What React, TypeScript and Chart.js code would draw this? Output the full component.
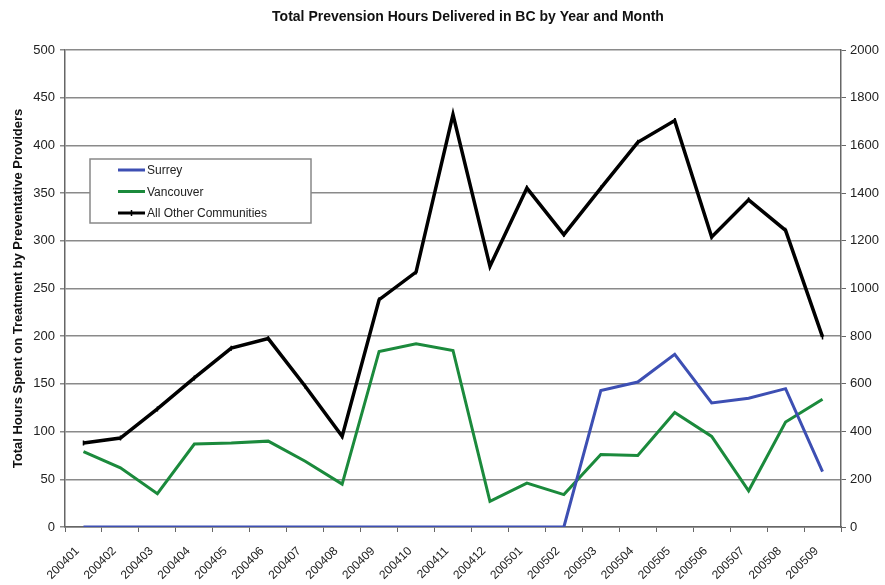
import React, { useEffect, useRef } from "react";
import { Chart, registerables } from "chart.js";

Chart.register(...registerables);

const months = [
  "200401", "200402", "200403", "200404", "200405", "200406", "200407",
  "200408", "200409", "200410", "200411", "200412", "200501", "200502",
  "200503", "200504", "200505", "200506", "200507", "200508", "200509",
];
const surrey = [0, 0, 0, 0, 0, 0, 0, 0, 0, 0, 0, 0, 0, 0, 143, 152, 181, 130, 135, 145, 58];
const vancouver = [79, 62, 35, 87, 88, 90, 69, 45, 184, 192, 185, 27, 46, 34, 76, 75, 120, 95, 38, 110, 134];
const otherCommunities = [352, 373, 495, 625, 750, 790, 590, 380, 953, 1069, 1729, 1093, 1421, 1226, 1421, 1613, 1704, 1216, 1372, 1244, 797];

const leftTicks = { min: 0, max: 500, step: 50 };
const rightTicks = { min: 0, max: 2000, step: 200 };

const chartTitle = "Total Prevension Hours Delivered in BC by Year and Month";
const yTitle = "Total Hours Spent on Treatment by Preventative Providers";
const seriesNames = ["Surrey", "Vancouver", "All Other Communities"];

const FONT = "'Liberation Sans', Arial, sans-serif";

const titlePlugin = {
  id: "customTitle",
  afterDraw(chart: any) {
    const ctx = chart.ctx;
    ctx.save();
    ctx.font = `bold 14px ${FONT}`;
    ctx.fillStyle = "#111";
    ctx.textAlign = "center";
    ctx.textBaseline = "middle";
    ctx.fillText(chartTitle, 468, 17);
    ctx.restore();
  },
};

const legendPlugin = {
  id: "boxLegend",
  afterDraw(chart: any) {
    const ctx = chart.ctx;
    const x = 90, y = 159, w = 221, h = 64;
    ctx.save();
    ctx.fillStyle = "#fff";
    ctx.fillRect(x, y, w, h);
    ctx.strokeStyle = "#888";
    ctx.lineWidth = 1.5;
    ctx.strokeRect(x, y, w, h);
    ctx.font = `12px ${FONT}`;
    ctx.textBaseline = "middle";
    ctx.textAlign = "left";
    chart.data.datasets.forEach((ds: any, i: number) => {
      const ry = y + 11 + i * 21.5;
      ctx.strokeStyle = ds.borderColor;
      ctx.lineWidth = 3;
      ctx.beginPath();
      ctx.moveTo(118, ry);
      ctx.lineTo(145, ry);
      ctx.stroke();
      if (ds.pointStyle === "line" && ds.pointRadius > 0) {
        ctx.lineWidth = 1.5;
        ctx.beginPath();
        ctx.moveTo(131.5, ry - 3);
        ctx.lineTo(131.5, ry + 3);
        ctx.stroke();
      }
      ctx.fillStyle = "#222";
      ctx.fillText(ds.label, 147, ry + 1);
    });
    ctx.restore();
  },
};

export default function App() {
  const ref = useRef<HTMLCanvasElement>(null);

  useEffect(() => {
    if (!ref.current) return;
    const tickFont = { family: FONT, size: 12 };
    const yFont = { family: FONT, size: 13 };
    const chart = new Chart(ref.current, {
      type: "line",
      data: {
        labels: months,
        datasets: [
          {
            label: seriesNames[0],
            data: surrey,
            borderColor: "#3d4fb3",
            backgroundColor: "#3d4fb3",
            borderWidth: 3,
            pointRadius: 0,
            yAxisID: "y",
          },
          {
            label: seriesNames[1],
            data: vancouver,
            borderColor: "#1b8a3c",
            backgroundColor: "#1b8a3c",
            borderWidth: 3,
            pointRadius: 0,
            yAxisID: "y",
          },
          {
            label: seriesNames[2],
            data: otherCommunities,
            borderColor: "#000",
            backgroundColor: "#000",
            borderWidth: 3.5,
            pointStyle: "line",
            rotation: 90,
            pointRadius: 2.5,
            pointBorderWidth: 1.5,
            yAxisID: "y1",
          },
        ],
      },
      options: {
        responsive: false,
        animation: false,
        maintainAspectRatio: false,
        layout: { padding: { top: 50, left: 0, right: 0, bottom: 0 } },
        plugins: {
          legend: { display: false },
          title: { display: false },
          tooltip: { enabled: false },
        },
        scales: {
          x: {
            type: "category",
            offset: true,
            grid: {
              offset: true,
              drawOnChartArea: false,
              drawTicks: true,
              tickLength: 5,
              color: "#666",
              lineWidth: 1,
            },
            border: { color: "#666", width: 1.5 },
            ticks: {
              autoSkip: false,
              minRotation: 45,
              maxRotation: 45,
              font: tickFont,
              color: "#222",
              padding: 12,
              labelOffset: -6,
            },
            afterFit: (s: any) => {
              s.height = 58;
            },
          },
          y: {
            position: "left",
            min: leftTicks.min,
            max: leftTicks.max,
            ticks: { stepSize: leftTicks.step, font: yFont, color: "#222", padding: 5 },
            grid: { color: "#8a8a8a", lineWidth: 1.5, tickLength: 5 },
            border: { color: "#666", width: 1.5 },
            title: {
              display: true,
              text: yTitle,
              font: { family: FONT, size: 13, weight: "bold" },
              color: "#111",
              padding: { top: 11, bottom: 0 },
            },
            afterFit: (s: any) => {
              s.width = 65;
            },
          },
          y1: {
            position: "right",
            min: rightTicks.min,
            max: rightTicks.max,
            ticks: {
              stepSize: rightTicks.step,
              font: yFont,
              color: "#222",
              padding: 4,
              callback: (v: any) => String(v),
            },
            grid: { drawOnChartArea: false, color: "#666", tickLength: 5 },
            border: { color: "#666", width: 1.5 },
            afterFit: (s: any) => {
              s.width = 44;
            },
          },
        },
      },
      plugins: [titlePlugin, legendPlugin],
    } as any);
    return () => chart.destroy();
  }, []);

  return (
    <div style={{ position: "absolute", left: 0, top: 0, width: 885, height: 585, background: "#fff" }}>
      <canvas ref={ref} width={885} height={585} style={{ width: 885, height: 585 }} />
    </div>
  );
}
